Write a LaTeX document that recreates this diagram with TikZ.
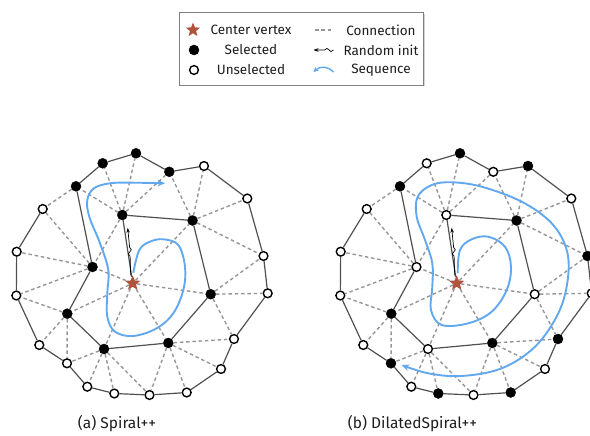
\documentclass[tikz,border=0pt]{standalone}
\usepackage{fontspec}
\setmainfont{Fira Sans}
\usetikzlibrary{shapes.geometric,positioning,arrows.meta,shadows,calc,decorations.pathmorphing}
\definecolor{starred}{RGB}{176,82,60}
\definecolor{seqblue}{RGB}{98,168,238}
\definecolor{edgegray}{RGB}{80,80,80}
\definecolor{conngray}{RGB}{150,150,150}
\definecolor{txtgray}{RGB}{30,30,30}
\tikzset{sel/.style={circle,fill=black,draw=black,inner sep=0pt,minimum size=10pt},
  unsel/.style={circle,fill=white,draw=black,line width=1.4pt,inner sep=0pt,minimum size=8.8pt},
  ctr/.style={star,star points=5,star point ratio=2.3,fill=starred,inner sep=0pt,minimum size=16pt},
  conn/.style={draw=conngray,dash pattern=on 3.5pt off 2.8pt,line width=1.4pt},
  spir/.style={draw=edgegray,line width=1.2pt},
  seq/.style={draw=seqblue,line width=1.9pt,-{Stealth[length=7.5pt,width=6.5pt]}},
  init/.style={draw=black,line width=0.7pt,-{Stealth[length=5pt,width=3.5pt]},
    decoration={snake,amplitude=1.6pt,segment length=8pt}},
  lgbox/.style={draw=gray,fill=white,line width=0.6pt,minimum width=244pt,minimum height=72.5pt,
    drop shadow={shadow xshift=1pt,shadow yshift=-1.2pt,opacity=0.35}},
  lgtext/.style={text=txtgray,font=\fontsize{13.5}{15}\selectfont,inner sep=0pt},
  captext/.style={text=txtgray,font=\fontsize{15.5}{17}\selectfont,inner sep=0pt}}
\begin{document}
\begin{tikzpicture}[x=1pt,y=-1pt]
    \useasboundingbox (0,0) rectangle (590,436);

    % legend
    \node[lgbox] (legend) at (301.5,48.7) {};
    \node[ctr,minimum size=15pt] (lgctr) at (193,30) {};
    \node[sel] (lgsel) at (194,50) {};
    \node[unsel] (lgunsel) at (194,70) {};
    \node[lgtext] (tctr) at (251,30) {Center vertex};
    \node[lgtext] (tsel) at (251,50) {Selected};
    \node[lgtext] (tunsel) at (251,70) {Unselected};
    \coordinate (lgconnL) at (315,30);
    \coordinate (lgconnR) at (333.5,30);
    \coordinate (lginitL) at (313.5,50);
    \coordinate (lginitR) at (333.5,50);
    \coordinate (lgseqL) at (313.5,72);
    \coordinate (lgseqR) at (333.5,72);
    \draw[conn] (lgconnL) -- (lgconnR);
    \draw[init] (lginitR) decorate{-- ($(lginitR)+(-11,0)$)} -- (lginitL);
    \draw[seq,-{Stealth[length=5pt,width=5pt]},line width=1.4pt] (lgseqR) .. controls (327,66) and (320,66) .. (lgseqL);
    \node[lgtext] (tconn) at (381,30) {Connection};
    \node[lgtext] (tinit) at (381,50) {Random init};
    \node[lgtext] (tseq) at (381,70) {Sequence};

    % (a) Spiral++
    \node[ctr] (a0) at (132.7,283.3) {};
    \node[sel] (a1) at (122.3,215) {};
    \node[sel] (a2) at (192.5,220.5) {};
    \node[sel] (a3) at (210.7,294.2) {};
    \node[sel] (a4) at (168.3,343) {};
    \node[sel] (a5) at (104,349) {};
    \node[sel] (a6) at (67.3,313.7) {};
    \node[sel] (a7) at (92.5,267) {};
    \node[sel] (a8) at (76,186.3) {};
    \node[sel] (a9) at (102.7,163.3) {};
    \node[sel] (a10) at (136,153.3) {};
    \node[sel] (a11) at (169.3,171.8) {};
    \node[unsel] (a12) at (204,166) {};
    \node[unsel] (a13) at (247.3,198.5) {};
    \node[unsel] (a14) at (263.5,256) {};
    \node[unsel] (a15) at (267.7,293.3) {};
    \node[unsel] (a16) at (234,339) {};
    \node[unsel] (a17) at (221,369) {};
    \node[unsel] (a18) at (186.7,392.5) {};
    \node[unsel] (a19) at (149.5,395) {};
    \node[unsel] (a20) at (114.3,393.5) {};
    \node[unsel] (a21) at (87.3,386.7) {};
    \node[unsel] (a22) at (67,363.3) {};
    \node[unsel] (a23) at (39.3,345) {};
    \node[unsel] (a24) at (16.3,295.5) {};
    \node[unsel] (a25) at (16.7,251.7) {};
    \node[unsel] (a26) at (42.7,209) {};
    \node[captext] (capa) at (117,424) {(a) Spiral++};

    % (b) DilatedSpiral++
    \begin{scope}[xshift=324pt]
    \node[ctr] (b0) at (132.7,283.3) {};
    \node[unsel] (b1) at (122.3,215) {};
    \node[sel] (b2) at (192.5,220.5) {};
    \node[unsel] (b3) at (210.7,294.2) {};
    \node[sel] (b4) at (168.3,343) {};
    \node[unsel] (b5) at (104,349) {};
    \node[sel] (b6) at (67.3,313.7) {};
    \node[unsel] (b7) at (92.5,267) {};
    \node[sel] (b8) at (76,186.3) {};
    \node[unsel] (b9) at (102.7,163.3) {};
    \node[sel] (b10) at (136,153.3) {};
    \node[unsel] (b11) at (169.3,171.8) {};
    \node[sel] (b12) at (204,166) {};
    \node[unsel] (b13) at (247.3,198.5) {};
    \node[sel] (b14) at (263.5,256) {};
    \node[unsel] (b15) at (267.7,293.3) {};
    \node[sel] (b16) at (234,339) {};
    \node[unsel] (b17) at (221,369) {};
    \node[sel] (b18) at (186.7,392.5) {};
    \node[unsel] (b19) at (149.5,395) {};
    \node[sel] (b20) at (114.3,393.5) {};
    \node[unsel] (b21) at (87.3,386.7) {};
    \node[sel] (b22) at (67,363.3) {};
    \node[unsel] (b23) at (39.3,345) {};
    \node[unsel] (b24) at (16.3,295.5) {};
    \node[unsel] (b25) at (16.7,251.7) {};
    \node[unsel] (b26) at (42.7,209) {};
    \node[captext] (capb) at (88.5,424) {(b) DilatedSpiral++};
    \end{scope}

    % mesh edges, same for both panels
    \foreach \p in {a,b}{
        \foreach \i [evaluate=\i as \j using int(\i+1)] in {0,...,25}
            \draw[spir] (\p\i) -- (\p\j);
        \foreach \u/\v in {0/2,0/3,0/4,0/5,0/6,0/7,1/7,8/26,
                           1/8,1/9,1/10,1/11,2/11,2/12,2/13,2/14,3/14,3/15,3/16,
                           4/16,4/17,4/18,4/19,5/19,5/20,5/21,5/22,6/22,6/23,6/24,
                           7/24,7/25,7/26}
            \draw[conn] (\p\u) -- (\p\v);
        \draw[init] ($(\p0)+(-2,-8)$) -- ($(\p0)+(-2.6,-27)$)
            decorate{-- ($(\p0)+(-3.2,-37)$)} -- ($(\p0)+(-5,-55.5)$);
    }

    % sequences
    \draw[seq] plot[smooth,tension=0.6] coordinates {(133.3,272.7) (139.3,250) (150,241.7)
        (163.3,239.3) (178.3,245) (185,266.7) (183.3,290) (173.3,313.3) (156.7,328.3)
        (133.3,336) (115,331.7) (107.3,316.7) (107.3,293.3) (108.3,270) (100,243.3)
        (89.3,216.7) (87.3,200) (94,188.3) (110,183.3) (133.3,182.7) (165,183.3)};
    \draw[seq] plot[smooth,tension=0.6] coordinates {(457.7,273.3) (460,250) (471.7,239.3)
        (488.3,236.7) (505,246.7) (511,266.7) (506.7,290) (491.7,311.7) (468.3,323.3)
        (441.7,325) (431,310) (432.3,286.7) (432.3,263.3) (425,240) (416.7,216.7)
        (417.7,196.7) (431.7,185) (451.7,182.3) (481.7,186.7) (521.7,201.7) (551.7,223.3)
        (566.7,250) (567.7,280) (558.3,313.3) (535,346.7) (501.7,368.3) (461.7,376)
        (428.3,373.3) (401.7,365)};
\end{tikzpicture}
\end{document}
